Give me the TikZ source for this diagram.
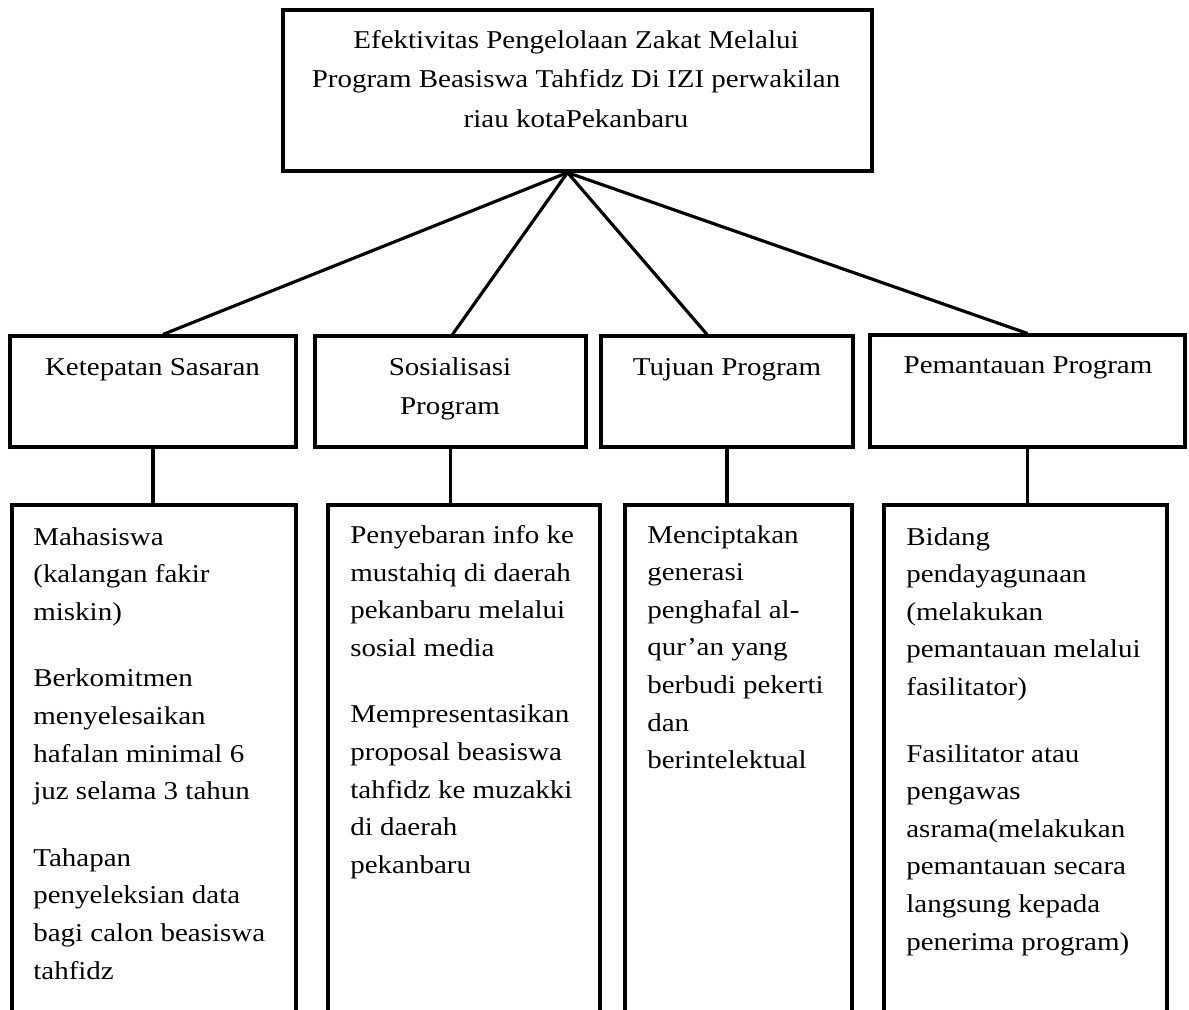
\documentclass[tikz,border=0pt]{standalone}
\usepackage{fontspec}
\setmainfont{Liberation Serif}[FakeStretch=1.13]
\usepackage{tikz}

\begin{document}
\begin{tikzpicture}[x=0.02cm,y=-0.02cm,
    box/.style={draw,line width=1.8pt,rectangle,inner sep=0pt},
    txt/.style={inner sep=0pt,font=\fontsize{14.6}{22.4}\selectfont},
    list/.style={inner sep=0pt,align=left,anchor=north west,font=\fontsize{14.6}{21.4}\selectfont}]
  \useasboundingbox (0,0) rectangle (1189,1009);
  \clip (0,0) rectangle (1189,1009);

  % top box
  \node[box,minimum width=11.78cm,minimum height=3.22cm] (top) at (577.5,90.5) {};
  \node[txt,align=center,anchor=north] (toptxt) at (576,30)
    {Efektivitas Pengelolaan Zakat Melalui\\
     Program Beasiswa Tahfidz Di IZI perwakilan\\
     riau kotaPekanbaru};

  % second row
  \node[box,minimum width=5.72cm,minimum height=2.22cm] (k1) at (153,391.5) {};
  \node[box,minimum width=5.42cm,minimum height=2.22cm] (k2) at (450.5,391.5) {};
  \node[box,minimum width=5.04cm,minimum height=2.22cm] (k3) at (727,391.5) {};
  \node[box,minimum width=6.3cm,minimum height=2.24cm] (k4) at (1027.5,391) {};
  \node[txt,anchor=base] (k1txt) at (152.5,375) {Ketepatan Sasaran};
  \node[txt,align=center,anchor=north] (k2txt) at (450,357) {Sosialisasi\\Program};
  \node[txt,anchor=base] (k3txt) at (727,375) {Tujuan Program};
  \node[txt,anchor=base] (k4txt) at (1028,373) {Pemantauan Program};

  % third row (runs off the page)
  \node[box,minimum width=5.68cm,minimum height=10.7cm] (b1) at (154,772.5) {};
  \node[box,minimum width=5.44cm,minimum height=10.7cm] (b2) at (464,772.5) {};
  \node[box,minimum width=4.54cm,minimum height=10.7cm] (b3) at (738.5,772.5) {};
  \node[box,minimum width=5.66cm,minimum height=10.7cm] (b4) at (1025.5,772.5) {};

  \node[list] (b1txt) at (33,527)
    {Mahasiswa\\(kalangan fakir\\miskin)\\[0.58cm]
     Berkomitmen\\menyelesaikan\\hafalan minimal 6\\juz selama 3 tahun\\[0.58cm]
     Tahapan\\penyeleksian data\\bagi calon beasiswa\\tahfidz};
  \node[list] (b2txt) at (350,525)
    {Penyebaran info ke\\mustahiq di daerah\\pekanbaru melalui\\sosial media\\[0.58cm]
     Mempresentasikan\\proposal beasiswa\\tahfidz ke muzakki\\di daerah\\pekanbaru};
  \node[list] (b3txt) at (647,525)
    {Menciptakan\\generasi\\penghafal al-\\qur’an yang\\berbudi pekerti\\dan\\berintelektual};
  \node[list] (b4txt) at (906,527)
    {Bidang\\pendayagunaan\\(melakukan\\pemantauan melalui\\fasilitator)\\[0.58cm]
     Fasilitator atau\\pengawas\\asrama(melakukan\\pemantauan secara\\langsung kepada\\penerima program)};

  % connectors
  \coordinate (apex) at ([xshift=-0.2cm]top.south);
  \foreach \i/\s in {1/0.2,2/0.04,3/-0.4,4/0} {
    \draw[line width=1.8pt] (apex) -- ([xshift=\s cm]k\i.north);
  }
  \foreach \i in {1,...,4} {
    \draw[line width=1.8pt] (k\i.south) -- (k\i.south |- b\i.north);
  }
\end{tikzpicture}
\end{document}
